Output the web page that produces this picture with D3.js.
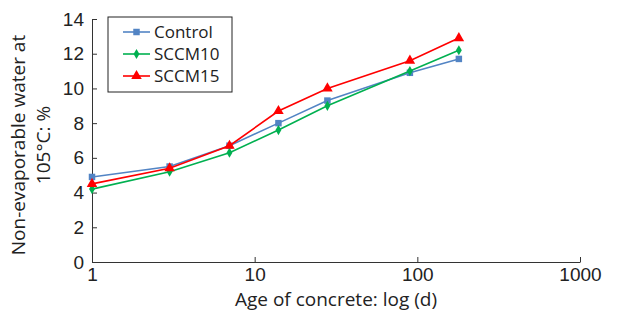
<!DOCTYPE html>
<html>
<head>
<meta charset="utf-8">
<script src="https://cdn.jsdelivr.net/npm/d3@7"></script>
<style>
  body { margin: 0; background: #fff; }
  svg { font-family: "Open Sans", sans-serif; }
  .axis path, .axis line { stroke: #333; }
  .axis text { fill: #222; font-size: 19px; }
</style>
</head>
<body>
<svg id="chart" width="640" height="320"></svg>
<script>
// age in days
let ages = [1, 3, 7, 14, 28, 90, 180];
let control = [4.9, 5.5, 6.7, 8.0, 9.3, 10.9, 11.7];
let sccm10 = [4.2, 5.2, 6.3, 7.6, 9.0, 11.0, 12.2];
let sccm15 = [4.5, 5.4, 6.7, 8.7, 10.0, 11.6, 12.9];
let seriesNames = ["Control", "SCCM10", "SCCM15"];
let xTicks = [1, 10, 100, 1000];
let yTicks = [0, 2, 4, 6, 8, 10, 12, 14];

let colors = ["#5284C4", "#00B050", "#FF0000"];
let symbols = [d3.symbolSquare, d3.symbolDiamond, d3.symbolTriangle];
let symSizes = [42, 30, 48];

let svg = d3.select("#chart"),
    margin = {top: 19, right: 60, bottom: 58, left: 92},
    width = 640 - margin.left - margin.right,
    height = 320 - margin.top - margin.bottom,
    g = svg.append("g").attr("transform", "translate(" + margin.left + "," + margin.top + ")");

let x = d3.scaleLog().domain([1, 1000]).range([0, 488]);
let y = d3.scaleLinear().domain([0, 14]).range([height, 0]);

g.append("g")
    .attr("class", "axis axis--x")
    .attr("transform", "translate(0," + height + ")")
    .call(d3.axisBottom(x).tickValues(xTicks).tickFormat(d3.format("d")).tickSizeInner(-5).tickSizeOuter(0).tickPadding(6));

g.append("g")
    .attr("class", "axis axis--y")
    .call(d3.axisLeft(y).tickValues(yTicks).tickSizeInner(-5).tickSizeOuter(0).tickPadding(8));

let allData = [control, sccm10, sccm15];

let line = d3.line()
    .x(function (d, i) { return x(ages[i]); })
    .y(function (d) { return y(d); });

allData.forEach(function (vals, k) {
    g.append("path")
        .datum(vals)
        .attr("fill", "none")
        .attr("stroke", colors[k])
        .attr("stroke-width", 1.6)
        .attr("d", line);

    g.selectAll(".pt" + k)
        .data(vals)
        .enter().append("path")
        .attr("class", "pt" + k)
        .attr("transform", function (d, i) {
            return "translate(" + x(ages[i]) + "," + y(d) + ")";
        })
        .attr("d", d3.symbol().type(symbols[k]).size(symSizes[k]))
        .attr("fill", colors[k]);
});

// legend
let legend = svg.append("g").attr("transform", "translate(108,17)");
legend.append("rect")
    .attr("width", 124).attr("height", 75)
    .attr("fill", "#fff").attr("stroke", "#222").attr("stroke-width", 1);

seriesNames.forEach(function (name, k) {
    let ly = 15 + k * 22;
    legend.append("line")
        .attr("x1", 15).attr("x2", 42).attr("y1", ly).attr("y2", ly)
        .attr("stroke", colors[k]).attr("stroke-width", 1.6);
    legend.append("path")
        .attr("transform", "translate(28.5," + ly + ")")
        .attr("d", d3.symbol().type(symbols[k]).size(symSizes[k]))
        .attr("fill", colors[k]);
    legend.append("text")
        .attr("x", 46).attr("y", ly + 6)
        .attr("font-size", 17).attr("fill", "#222")
        .text(name);
});

// axis titles
svg.append("text")
    .attr("x", 336).attr("y", 306)
    .attr("text-anchor", "middle")
    .attr("font-size", 19).attr("fill", "#222")
    .text("Age of concrete: log (d)");

let yt = svg.append("text")
    .attr("transform", "translate(25,145) rotate(-90)")
    .attr("text-anchor", "middle")
    .attr("font-size", 19).attr("fill", "#222");
yt.append("tspan").attr("x", 0).attr("dy", 0).text("Non-evaporable water at");
yt.append("tspan").attr("x", 0).attr("dy", 25).text("105°C: %");
</script>
</body>
</html>
